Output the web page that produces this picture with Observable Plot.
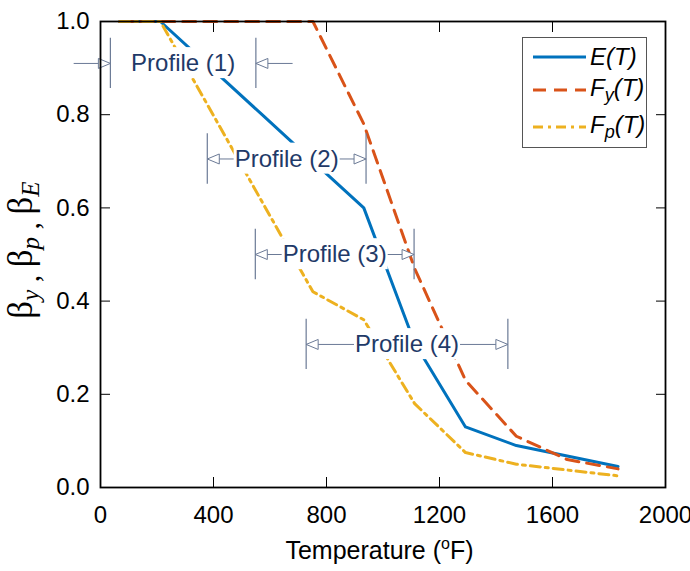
<!DOCTYPE html>
<html>
<head>
<meta charset="utf-8">
<script src="https://cdn.jsdelivr.net/npm/d3@7"></script>
<script src="https://cdn.jsdelivr.net/npm/@observablehq/plot@0.6"></script>
<style>
  body { margin: 0; background: white; }
  #wrap { position: relative; width: 690px; height: 571px; font-family: "Liberation Sans", Arial, sans-serif; }
  #legend { position: absolute; left: 522px; top: 37px; width: 125px; height: 111px; border: 1px solid #555; background: white; box-sizing: border-box; }
  #legend .row { position: absolute; left: 10px; height: 28px; display: flex; align-items: center; }
  #legend .lab { font-style: italic; font-size: 24px; margin-left: 4px; color: #000; }
  #legend sub { font-size: 18px; vertical-align: -5px; }
</style>
</head>
<body>
<div id="wrap"></div>
<script>
// Temperature (°F) and reduction factors
const temps = [68, 212, 392, 572, 752, 932, 1112, 1292, 1472, 1652, 1832];
const E_T  = [1, 1, 0.9, 0.8, 0.7, 0.6, 0.31, 0.13, 0.09, 0.0675, 0.045];
const Fy_T = [1, 1, 1, 1, 1, 0.78, 0.47, 0.23, 0.11, 0.06, 0.04];
const Fp_T = [1, 1, 0.807, 0.613, 0.42, 0.36, 0.18, 0.075, 0.05, 0.0375, 0.025];

// Profile annotations
const profileNames = ["Profile (1)", "Profile (2)", "Profile (3)", "Profile (4)"];
const profileStart = [35, 378, 548, 728];
const profileEnd   = [550, 940, 1110, 1442];
const profileLevel = [0.91, 0.705, 0.5, 0.307];
const profile1Tails = [-95, 680]; // Profile (1) arrows come from outside

const xTicks = [0, 400, 800, 1200, 1600, 2000];
const yTicks = [0, 0.2, 0.4, 0.6, 0.8, 1.0];

const seriesColors = {E: "#0072BD", Fy: "#D95319", Fp: "#EDB120"};
const annoColor = "#6b7a96";
const annoText = "#1f3a68";

const rows = temps.map((t, i) => ({t, E: E_T[i], Fy: Fy_T[i], Fp: Fp_T[i]}));
const profiles = profileNames.map((name, i) => ({
  name, i, x1: profileStart[i], x2: profileEnd[i], y: profileLevel[i],
  xm: (profileStart[i] + profileEnd[i]) / 2
}));

// arrowhead symbol: open triangle with tip at origin, pointing right
const arrowHead = {
  draw(ctx) {
    ctx.moveTo(0, 0);
    ctx.lineTo(-12, -5);
    ctx.lineTo(-12, 5);
    ctx.closePath();
  }
};

const halfH = 0.054;
const segs = [];
const heads = [];
profiles.forEach(p => {
  if (p.i === 0) {
    segs.push({x1: profile1Tails[0], x2: p.x1, y: p.y});
    segs.push({x1: profile1Tails[1], x2: p.x2, y: p.y});
    heads.push({x: p.x1, y: p.y, r: 0});
    heads.push({x: p.x2, y: p.y, r: 180});
  } else {
    segs.push({x1: p.x1, x2: p.x2, y: p.y});
    heads.push({x: p.x1, y: p.y, r: 180});
    heads.push({x: p.x2, y: p.y, r: 0});
  }
});
const verts = [];
profiles.forEach(p => { verts.push({x: p.x1, y: p.y}); verts.push({x: p.x2, y: p.y}); });

const FS = 24;
const plot = Plot.plot({
  width: 690,
  height: 571,
  marginLeft: 100,
  marginRight: 25,
  marginTop: 21,
  marginBottom: 84,
  style: {fontSize: FS + "px", fontFamily: "Liberation Sans, Arial, sans-serif", background: "white", color: "black"},
  x: {domain: [0, 2000], ticks: xTicks},
  y: {domain: [0, 1], ticks: yTicks},
  marks: [
    Plot.axisX({anchor: "bottom", ticks: xTicks, tickSize: -10, tickPadding: 28, fontSize: FS, tickFormat: d3.format("d"), label: null}),
    Plot.axisX({anchor: "top", ticks: xTicks, tickSize: -10, tickFormat: () => "", label: null}),
    Plot.axisY({anchor: "left", ticks: yTicks, tickSize: -10, tickPadding: 21, fontSize: FS, tickFormat: d3.format(".1f"), label: null}),
    Plot.axisY({anchor: "right", ticks: yTicks, tickSize: -10, tickFormat: () => "", label: null}),
    Plot.line(rows, {x: "t", y: "E", stroke: seriesColors.E, strokeWidth: 3}),
    Plot.line(rows, {x: "t", y: "Fy", stroke: seriesColors.Fy, strokeWidth: 3, strokeDasharray: "13,8"}),
    Plot.line(rows, {x: "t", y: "Fp", stroke: seriesColors.Fp, strokeWidth: 3, strokeDasharray: "10,5,3,5"}),
    Plot.link(segs, {x1: "x1", x2: "x2", y1: "y", y2: "y", stroke: annoColor, strokeWidth: 1}),
    Plot.ruleX(verts, {x: "x", y1: d => d.y - halfH, y2: d => d.y + halfH, stroke: annoColor, strokeWidth: 1.2}),
    Plot.dot(heads, {x: "x", y: "y", rotate: "r", symbol: arrowHead, fill: "white", stroke: annoColor, strokeWidth: 1}),
    Plot.text(profiles, {x: "xm", y: "y", text: "name", fill: annoText, fontSize: FS}),
    Plot.frame({stroke: "black", strokeWidth: 1.8})
  ]
});

const wrap = document.getElementById("wrap");
wrap.appendChild(plot);

// white boxes behind profile labels
const svg = d3.select(plot);
svg.selectAll('g[aria-label="text"] text').each(function() {
  const node = this;
  const bb = node.getBBox();
  const r = document.createElementNS("http://www.w3.org/2000/svg", "rect");
  r.setAttribute("x", bb.x - 1);
  r.setAttribute("y", bb.y - 2);
  r.setAttribute("width", bb.width + 2);
  r.setAttribute("height", bb.height + 4);
  r.setAttribute("fill", "white");
  const tr = node.getAttribute("transform");
  if (tr) r.setAttribute("transform", tr);
  node.parentNode.insertBefore(r, node);
});

// x axis label with superscript o
const xl = svg.append("text")
  .attr("x", (100 + 665) / 2 - 3).attr("y", 559)
  .attr("text-anchor", "middle")
  .attr("font-size", 25)
  .attr("fill", "black");
xl.append("tspan").text("Temperature (");
xl.append("tspan").text("o").attr("font-size", 16).attr("dy", -10);
xl.append("tspan").text("F)").attr("dy", 10);

// y axis label: βy , βp , βE
const serif = "Liberation Serif, Times New Roman, serif";
const yl = svg.append("text")
  .attr("transform", "translate(32,250) rotate(-90)")
  .attr("text-anchor", "middle")
  .attr("fill", "black")
  .attr("font-family", serif);
const subs = ["y", "p", "E"];
subs.forEach((s, i) => {
  const b = yl.append("tspan").text("β").attr("font-size", 35);
  if (i > 0) b.attr("dy", -7);
  yl.append("tspan").text(s).attr("font-style", "italic").attr("font-size", 25).attr("dy", 7);
  if (i < subs.length - 1) {
    yl.append("tspan").text(" , ").attr("font-size", 30);
  }
});

// legend
const legendItems = [
  {html: "E(T)", color: seriesColors.E, dash: null},
  {html: "F<sub>y</sub>(T)", color: seriesColors.Fy, dash: "13,8"},
  {html: "F<sub>p</sub>(T)", color: seriesColors.Fp, dash: "10,5,3,5"}
];
const legendTops = [5, 38, 75];
const leg = document.createElement("div");
leg.id = "legend";
legendItems.forEach((it, i) => {
  const row = document.createElement("div");
  row.className = "row";
  row.style.top = legendTops[i] + "px";
  const s = d3.create("svg").attr("width", 53).attr("height", 28);
  s.append("line").attr("x1", 0).attr("x2", 53).attr("y1", 14).attr("y2", 14)
    .attr("stroke", it.color).attr("stroke-width", 3)
    .attr("stroke-dasharray", it.dash);
  row.appendChild(s.node());
  const lab = document.createElement("span");
  lab.className = "lab";
  lab.innerHTML = it.html;
  row.appendChild(lab);
  leg.appendChild(row);
});
wrap.appendChild(leg);
</script>
</body>
</html>
